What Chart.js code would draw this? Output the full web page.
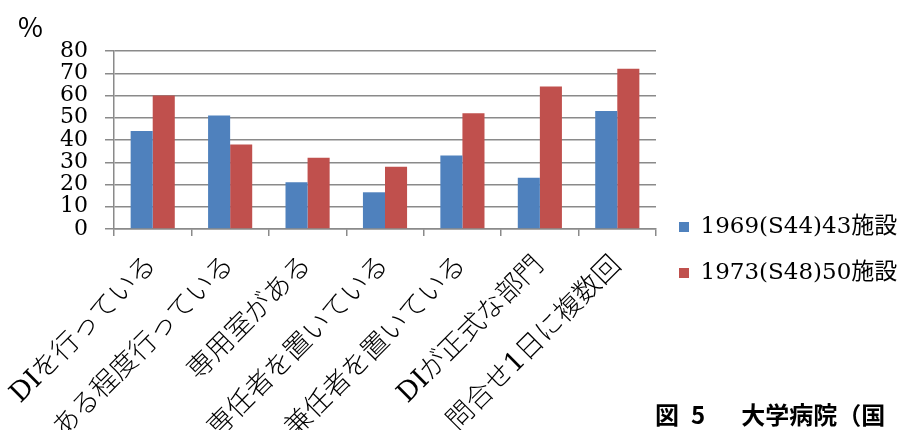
<!DOCTYPE html>
<html lang="ja">
<head>
<meta charset="utf-8">
<title>DI実施状況</title>
<script src="https://cdn.jsdelivr.net/npm/chart.js@4.4.1/dist/chart.umd.min.js"></script>
<style>
  html, body { margin: 0; padding: 0; background: #fff; overflow: hidden; }
  #wrap { position: relative; width: 907px; height: 430px; }
  #caption {
    position: absolute; left: 655px; top: 402px;
    white-space: nowrap; color: #000;
    font: bold 24px 'Noto Sans CJK JP', sans-serif; line-height: 1;
  }
</style>
</head>
<body>
<div id="wrap">
  <canvas id="diChart"></canvas>
  <div id="caption">図&ensp;5&emsp;&ensp;大学病院（国</div>
</div>
<script>
// 項目と各年の割合(%)
const categories = [
  'DIを行っている',
  'ある程度行っている',
  '専用室がある',
  '専任者を置いている',
  '兼任者を置いている',
  'DIが正式な部門',
  '問合せ1日に複数回'
];
const series1969 = [44, 51, 21, 16.5, 33, 23, 53];
const series1973 = [60, 38, 32, 28, 52, 64, 72];
const seriesLabels = ['1969(S44)43施設', '1973(S48)50施設'];
const seriesColors = ['#4F81BD', '#C0504D'];
const yMax = 80;
const yStep = 10;

const serif = "'DejaVu Serif', 'Noto Sans CJK JP', serif";
const gridGray = '#8a8a8a';

new Chart(document.getElementById('diChart'), {
  type: 'bar',
  data: {
    labels: categories,
    datasets: [
      { label: seriesLabels[0], data: series1969, backgroundColor: seriesColors[0] },
      { label: seriesLabels[1], data: series1973, backgroundColor: seriesColors[1] }
    ]
  },
  options: {
    responsive: true,
    maintainAspectRatio: false,
    devicePixelRatio: 1,
    animation: false,
    layout: { padding: { left: 18, top: 10, right: 0, bottom: 0 } },
    datasets: { bar: { categoryPercentage: 0.57, barPercentage: 1 } },
    plugins: {
      title: {
        display: true,
        text: '%',
        align: 'start',
        color: '#000',
        font: { family: "'Noto Sans CJK JP'", size: 27, weight: 'normal', lineHeight: 1 },
        padding: { top: 3, bottom: 11 }
      },
      legend: {
        position: 'right',
        align: 'center',
        maxWidth: 251,
        // empty title keeps the two entries down near the x axis
        title: { display: true, text: ' ', font: { size: 10, lineHeight: 1 }, padding: { top: 0, bottom: 50 } },
        labels: {
          boxWidth: 10,
          boxHeight: 10,
          padding: 23,
          color: '#000',
          font: { family: serif, size: 23 }
        }
      },
      tooltip: { enabled: false }
    },
    scales: {
      x: {
        grid: { drawOnChartArea: false, drawTicks: true, tickLength: 7, color: gridGray, lineWidth: 1.5, offset: true },
        border: { color: gridGray, width: 1.5 },
        ticks: {
          autoSkip: false,
          minRotation: 45,
          maxRotation: 45,
          padding: 14,
          color: '#000',
          font: { family: serif, size: 27, weight: 300 }
        },
        afterFit: function (scale) {
          scale.height = 201;
          scale.paddingLeft = 0;
          scale.paddingRight = 0;
        }
      },
      y: {
        min: 0,
        max: yMax,
        grid: { color: gridGray, lineWidth: 1.5, tickLength: 9 },
        border: { color: gridGray, width: 1.5 },
        ticks: {
          stepSize: yStep,
          autoSkip: false,
          padding: 17,
          color: '#000',
          font: { family: serif, size: 22, lineHeight: 1 }
        },
        afterFit: function (scale) { scale.width = 96; }
      }
    }
  }
});
</script>
</body>
</html>
